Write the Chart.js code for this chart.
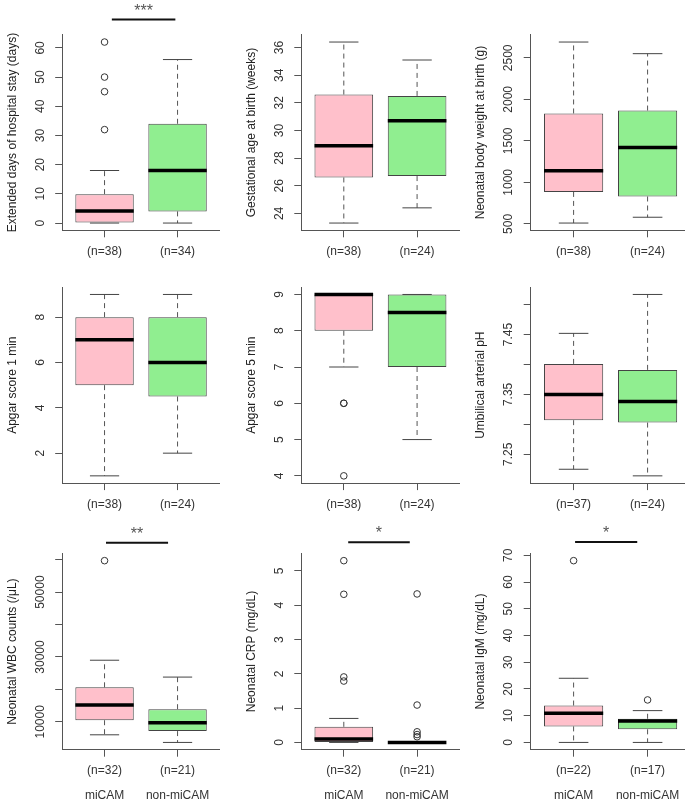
<!DOCTYPE html>
<html>
<head>
<meta charset="utf-8">
<script src="https://cdn.jsdelivr.net/npm/chart.js@4.4.1/dist/chart.umd.min.js"></script>
<style>
html,body{margin:0;padding:0;background:#fff;overflow:hidden;width:685px;height:803px;position:relative;}
canvas{position:absolute;}
</style>
</head>
<body>
<script>
var groups = ["miCAM", "non-miCAM"];
var boxColors = ["#FFC0CB", "#90EE90"];

// panels in reading order
var titles = [
  "Extended days of hospital stay (days)",
  "Gestational age at birth (weeks)",
  "Neonatal body weight at birth (g)",
  "Apgar score 1 min",
  "Apgar score 5 min",
  "Umbilical arterial pH",
  "Neonatal WBC counts (/\u03bcL)",
  "Neonatal CRP (mg/dL)",
  "Neonatal IgM (mg/dL)"
];
var nCounts = [[38,34],[38,24],[38,24],[38,24],[38,24],[37,24],[32,21],[32,21],[22,17]];

// [lower whisker, q1, median, q3, upper whisker] for miCAM / non-miCAM
var stats = [
  [[0, 0, 4.1, 9.9, 18], [0, 4, 18, 34, 56]],
  [[23.3, 26.6, 28.9, 32.6, 36.4], [24.4, 26.7, 30.7, 32.5, 35.1]],
  [[510, 885, 1140, 1830, 2690], [580, 830, 1420, 1865, 2550]],
  [[1, 5, 7, 8, 9], [2, 4.5, 6, 8, 9]],
  [[7, 8, 9, 9, 9], [5, 7, 8.5, 9, 9]],
  [[7.225, 7.307, 7.350, 7.401, 7.452], [7.214, 7.303, 7.338, 7.391, 7.517]],
  [[6000, 10500, 15200, 20650, 29000], [3650, 7150, 9700, 13900, 23800]],
  [[0, 0, 0.1, 0.455, 0.7], [0, 0, 0, 0, 0]],
  [[0, 6, 10.9, 13.8, 24], [0, 4.9, 8, 8.85, 11.9]]
];
var outliers = [
  [[62, 50, 45, 32], []],
  [[], []],
  [[], []],
  [[], []],
  [[6, 6, 4], []],
  [[], []],
  [[59700], []],
  [[5.3, 4.32, 1.91, 1.79], [4.33, 1.09, 0.31, 0.23, 0.165]],
  [[68], [15.9]]
];

var yTicks = [
  [0, 10, 20, 30, 40, 50, 60],
  [24, 26, 28, 30, 32, 34, 36],
  [500, 1000, 1500, 2000, 2500],
  [2, 4, 6, 8],
  [4, 5, 6, 7, 8, 9],
  [7.25, 7.30, 7.35, 7.40, 7.45, 7.50],
  [10000, 20000, 30000, 40000, 50000, 60000],
  [0, 1, 2, 3, 4, 5],
  [0, 10, 20, 30, 40, 50, 60, 70]
];
var yLabels = [
  ["0", "10", "20", "30", "40", "50", "60"],
  ["24", "26", "28", "30", "32", "34", "36"],
  ["500", "1000", "1500", "2000", "2500"],
  ["2", "4", "6", "8"],
  ["4", "5", "6", "7", "8", "9"],
  ["7.25", "7.35", "7.45"],
  ["10000", "30000", "50000"],
  ["0", "1", "2", "3", "4", "5"],
  ["0", "10", "20", "30", "40", "50", "60", "70"]
];

// significance marks (x in group units, y in data units)
var sigText = ["***", "", "", "", "", "", "**", "*", "*"];
var sigFrom = [1.10, 0, 0, 0, 0, 0, 1.02, 1.06, 1.02];
var sigTo = [1.97, 0, 0, 0, 0, 0, 1.87, 1.90, 1.86];
var sigY = [69.7, 0, 0, 0, 0, 0, 65200, 5.84, 75];

// page layout
var colLeft = [0, 228, 456];
var axisX = [62.2, 301.3, 530.7];
var plotRight = [219.9, 459.6, 690.5];
var rowTop = [0, 262, 515];
var plotTop = [34.8, 287.2, 553.4];
var plotBottom = [230.3, 483.1, 749.7];
var xAxisH = [32, 32, 54];
var canvasW = 240;
var yAxisW = 62;

Chart.defaults.font.family = '"Liberation Sans", Arial, sans-serif';
Chart.defaults.font.size = 12;
Chart.defaults.color = '#333';

var panelText = {
  id: 'panelText',
  afterDraw: function(chart, args, opts) {
    var ctx = chart.ctx, xs = chart.scales.x, ys = chart.scales.y, a = chart.chartArea;
    ctx.save();
    ctx.fillStyle = '#333';
    ctx.font = '12px "Liberation Sans", Arial, sans-serif';
    ctx.textAlign = 'center';
    ctx.textBaseline = 'middle';
    opts.labels.forEach(function(l) {
      ctx.save();
      ctx.translate(a.left - 22, ys.getPixelForValue(parseFloat(l)));
      ctx.rotate(-Math.PI / 2);
      ctx.fillText(l, 0, 0);
      ctx.restore();
    });
    if (opts.sig) {
      var yy = ys.getPixelForValue(opts.sigY);
      var x1 = xs.getPixelForValue(opts.sigFrom), x2 = xs.getPixelForValue(opts.sigTo);
      ctx.strokeStyle = '#111';
      ctx.lineWidth = 2;
      ctx.beginPath();
      ctx.moveTo(x1, yy);
      ctx.lineTo(x2, yy);
      ctx.stroke();
      ctx.fillStyle = '#555';
      ctx.font = '16px "Liberation Sans", Arial, sans-serif';
      ctx.textBaseline = 'alphabetic';
      ctx.fillText(opts.sig, (x1 + x2) / 2, yy - 4);
    }
    ctx.restore();
  }
};

function yRange(i) {
  var all = [];
  stats[i].forEach(function(s) { all = all.concat(s); });
  outliers[i].forEach(function(o) { all = all.concat(o); });
  var lo = Math.min.apply(null, all), hi = Math.max.apply(null, all);
  var ext = (hi - lo) * 0.04;
  return [lo - ext, hi + ext];
}

function makePanel(i) {
  var c = i % 3, r = Math.floor(i / 3);
  var s = stats[i];
  var H = Math.ceil(plotBottom[r] - rowTop[r] + xAxisH[r]);

  var canvas = document.createElement('canvas');
  canvas.width = canvasW;
  canvas.height = H;
  canvas.style.left = colLeft[c] + 'px';
  canvas.style.top = rowTop[r] + 'px';
  document.body.appendChild(canvas);

  var boxes = [], whiskers = [], caps = [], medians = [], points = [];
  s.forEach(function(g, j) {
    var x = j + 1;
    boxes.push({x: x, y: [g[1], g[3]]});
    whiskers.push({x: x, y: g[3]}, {x: x, y: g[4]}, {x: x, y: null},
                  {x: x, y: g[1]}, {x: x, y: g[0]}, {x: x, y: null});
    caps.push({x: x - 0.2, y: g[4]}, {x: x + 0.2, y: g[4]}, {x: x, y: null},
              {x: x - 0.2, y: g[0]}, {x: x + 0.2, y: g[0]}, {x: x, y: null});
    medians.push({x: x - 0.4, y: g[2]}, {x: x + 0.4, y: g[2]}, {x: x, y: null});
    outliers[i][j].forEach(function(v) { points.push({x: x, y: v}); });
  });

  var yr = yRange(i);

  new Chart(canvas, {
    type: 'bar',
    data: {
      datasets: [{
        type: 'bar',
        data: boxes,
        backgroundColor: boxColors,
        borderColor: '#444',
        borderWidth: 1,
        borderSkipped: false,
        barPercentage: 1,
        categoryPercentage: 0.8,
        order: 2
      }, {
        type: 'line',
        data: whiskers,
        borderColor: '#555',
        borderWidth: 1,
        borderDash: [5, 4],
        pointRadius: 0,
        spanGaps: false,
        order: 4
      }, {
        type: 'line',
        data: caps,
        borderColor: '#444',
        borderWidth: 1,
        pointRadius: 0,
        spanGaps: false,
        order: 3
      }, {
        type: 'line',
        data: medians,
        borderColor: '#000',
        borderWidth: 3.5,
        borderCapStyle: 'butt',
        pointRadius: 0,
        spanGaps: false,
        order: 1
      }, {
        type: 'scatter',
        data: points,
        pointRadius: 3.3,
        pointBorderWidth: 1,
        borderColor: '#333',
        backgroundColor: 'rgba(0,0,0,0)',
        order: 0
      }]
    },
    options: {
      responsive: false,
      animation: false,
      events: [],
      layout: {
        padding: {
          left: axisX[c] - colLeft[c] - yAxisW,
          right: colLeft[c] + canvasW - plotRight[c],
          top: plotTop[r] - rowTop[r],
          bottom: H - (plotBottom[r] - rowTop[r]) - xAxisH[r]
        }
      },
      plugins: {
        legend: {display: false},
        tooltip: {enabled: false},
        panelText: {
          labels: yLabels[i],
          sig: sigText[i],
          sigFrom: sigFrom[i],
          sigTo: sigTo[i],
          sigY: sigY[i]
        }
      },
      scales: {
        x: {
          type: 'linear',
          min: 0.42,
          max: 2.58,
          offset: false,
          bounds: 'data',
          afterBuildTicks: function(scale) {
            scale.ticks = groups.map(function(g, j) { return {value: j + 1}; });
          },
          afterFit: function(scale) { scale.height = xAxisH[r]; },
          grid: {display: true, drawOnChartArea: false, drawTicks: true, tickLength: 7, color: '#555', offset: false},
          border: {display: true, color: '#555', width: 1},
          ticks: {
            color: '#333',
            padding: r === 2 ? 1.8 : 7.5,
            maxRotation: 0,
            autoSkip: false,
            font: {size: 12, lineHeight: r === 2 ? 25 / 12 : 1.2},
            callback: function(v) {
              var k = Math.round(v) - 1;
              var lab = '(n=' + nCounts[i][k] + ')';
              return r === 2 ? [lab, groups[k]] : lab;
            }
          }
        },
        y: {
          type: 'linear',
          min: yr[0],
          max: yr[1],
          bounds: 'data',
          afterBuildTicks: function(scale) {
            scale.ticks = yTicks[i].map(function(v) { return {value: v}; });
          },
          afterFit: function(scale) { scale.width = yAxisW; },
          grid: {display: true, drawOnChartArea: false, drawTicks: true, tickLength: 7, color: '#555'},
          border: {display: true, color: '#555', width: 1},
          ticks: {display: false},
          title: {
            display: true,
            text: titles[i],
            color: '#222',
            font: {size: 12},
            padding: {top: 5, bottom: 0}
          }
        }
      }
    },
    plugins: [panelText]
  });
}

for (var i = 0; i < 9; i++) makePanel(i);
</script>
</body>
</html>
